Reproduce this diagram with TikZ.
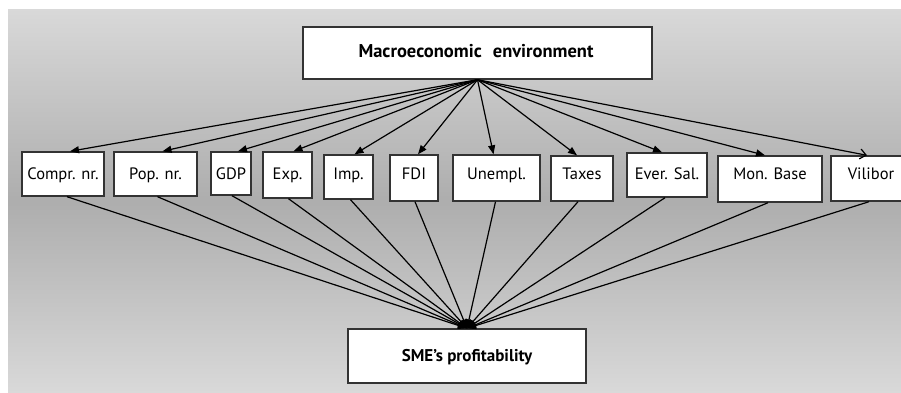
\documentclass[tikz,border=0pt]{standalone}
\usepackage{fontspec}
\setmainfont{PT Sans}
\usetikzlibrary{arrows.meta,calc}
\definecolor{bgedge}{gray}{0.85}
\definecolor{bgmid}{gray}{0.68}
\definecolor{boxline}{gray}{0.2}
\pgfdeclareverticalshading{bgband}{100bp}{color(0bp)=(bgedge); color(25bp)=(bgedge); color(50bp)=(bgmid); color(75bp)=(bgedge); color(100bp)=(bgedge)}
\begin{document}
\begin{tikzpicture}[x=1pt,y=-1pt,
  box/.style={draw=boxline, line width=1.4pt, fill=white, inner sep=0pt},
  lbl/.style={anchor=base, inner sep=0pt, font=\fontsize{16.5}{18}\selectfont},
  head/.style={anchor=base, inner sep=0pt, font=\fontsize{17}{20}\selectfont\bfseries},
  link/.style={line width=1.2pt, -{Triangle[length=9pt,width=7pt]}},
  openlink/.style={line width=1.2pt, -{Straight Barb[length=6pt,width=10pt]}}]
\useasboundingbox (0,0) rectangle (901,392);
\clip (0,0) rectangle (901,392);
% shaded backdrop: light at the edges, darker through the middle
\begin{scope}[y=1pt]
  \shade[shading=bgband] (8,-392) rectangle (901,-9);
\end{scope}

% source and target boxes
\node[box, minimum width=349, minimum height=52] (macro) at (477.5,53) {};
\node[head, font=\fontsize{18.5}{20}\selectfont\bfseries] (macrot) at (476,57) {Macroeconomic\hspace{0.6em}environment};
\node[box, minimum width=238, minimum height=54] (sme) at (467,356) {};
\node[head] (smet) at (467,361) {SME’s profitability};

% indicator boxes
\node[box, minimum width=82, minimum height=44] (c1) at (63,174) {};
\node[box, minimum width=83, minimum height=44] (c2) at (155.5,174) {};
\node[box, minimum width=40, minimum height=43] (c3) at (231,173.5) {};
\node[box, minimum width=49, minimum height=46] (c4) at (287.5,175) {};
\node[box, minimum width=49, minimum height=44] (c5) at (348.5,177) {};
\node[box, minimum width=48, minimum height=46] (c6) at (414,178) {};
\node[box, minimum width=87, minimum height=46] (c7) at (496.5,178) {};
\node[box, minimum width=62, minimum height=45] (c8) at (582,178.5) {};
\node[box, minimum width=80, minimum height=44] (c9) at (667,175) {};
\node[box, minimum width=104, minimum height=46] (c10) at (770,179) {};
\node[box, minimum width=80, minimum height=45] (c11) at (871,178.5) {};

\node[lbl] (t1) at (63,179) {Compr. nr.};
\node[lbl] (t2) at (155.5,179) {Pop. nr.};
\node[lbl] (t3) at (231,179) {GDP};
\node[lbl] (t4) at (287.5,179) {Exp.};
\node[lbl] (t5) at (348.5,179) {Imp.};
\node[lbl] (t6) at (414,179) {FDI};
\node[lbl] (t7) at (496.5,179) {Unempl.};
\node[lbl] (t8) at (582,179) {Taxes};
\node[lbl] (t9) at (667,179) {Ever. Sal.};
\node[lbl] (t10) at (770,179) {Mon. Base};
\node[lbl] (t11) at (871,179) {Vilibor};

% arrows from the environment to each indicator
\draw[link] (macro.south) -- ($(c1.north)+(7,0)$);
\draw[link] (macro.south) -- ($(c2.north)+(7,0)$);
\draw[link] (macro.south) -- ($(c3.north)+(7,0)$);
\draw[link] (macro.south) -- ($(c4.north)+(6,0)$);
\draw[link] (macro.south) -- ($(c5.north)+(6,0)$);
\draw[link] (macro.south) -- ($(c6.north)+(4,0)$);
\draw[link] (macro.south) -- ($(c7.north)+(-3,0)$);
\draw[link] (macro.south) -- ($(c8.north)+(-5,0)$);
\draw[link] (macro.south) -- ($(c9.north)+(-5,0)$);
\draw[link] (macro.south) -- ($(c10.north)+(-5,0)$);
\draw[openlink] (macro.south) -- ($(c11.north)+(-4,0)$);

% arrows from each indicator to profitability
\foreach \k/\dx in {1/4,2/2,3/1,4/1,5/2,6/1,7/-1,8/-4,9/-2,10/-2,11/-2}
  \draw[link] ($(c\k.south)+(\dx,0)$) -- (sme.north);
\end{tikzpicture}
\end{document}
